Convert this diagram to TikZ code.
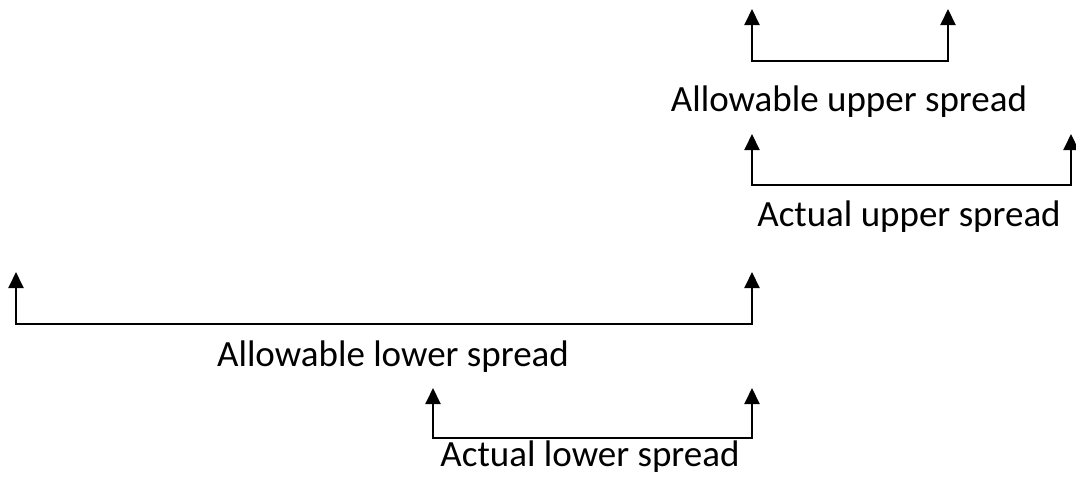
\documentclass[tikz,border=0pt]{standalone}
\usepackage{fontspec}
\setmainfont{Carlito}
\usetikzlibrary{arrows.meta}

\begin{document}
\begin{tikzpicture}[
    x=1pt, y=-1pt,
    >={Triangle[length=16pt,width=15pt]},
    line width=2pt,
    spread/.style={<->},
    caption/.style={
        anchor=base,
        inner sep=0pt,
        font=\fontsize{37}{42}\selectfont
    }
]
\useasboundingbox (0,0) rectangle (1076,477);

% allowable upper spread
\coordinate (autipL) at (752,9);
\coordinate (autipR) at (948,9);
\coordinate (aubarL) at (752,61);
\coordinate (aubarR) at (948,61);
\draw[spread] (autipL) -- (aubarL) -- (aubarR) -- (autipR);
\node[caption] (aulabel) at (849,111) {Allowable upper spread};

% actual upper spread
\coordinate (actutipL) at (752,134);
\coordinate (actutipR) at (1071,134);
\coordinate (actubarL) at (752,185);
\coordinate (actubarR) at (1071,185);
\draw[spread] (actutipL) -- (actubarL) -- (actubarR) -- (actutipR);
\node[caption] (actulabel) at (909,226) {Actual upper spread};

% allowable lower spread
\coordinate (altipL) at (16,272);
\coordinate (altipR) at (752,272);
\coordinate (albarL) at (16,324);
\coordinate (albarR) at (752,324);
\draw[spread] (altipL) -- (albarL) -- (albarR) -- (altipR);
\node[caption] (allabel) at (393,366) {Allowable lower spread};

% actual lower spread
\coordinate (actltipL) at (433,388);
\coordinate (actltipR) at (752,388);
\coordinate (actlbarL) at (433,438);
\coordinate (actlbarR) at (752,438);
\draw[spread] (actltipL) -- (actlbarL) -- (actlbarR) -- (actltipR);
\node[caption] (actllabel) at (590,466) {Actual lower spread};
\end{tikzpicture}
\end{document}
